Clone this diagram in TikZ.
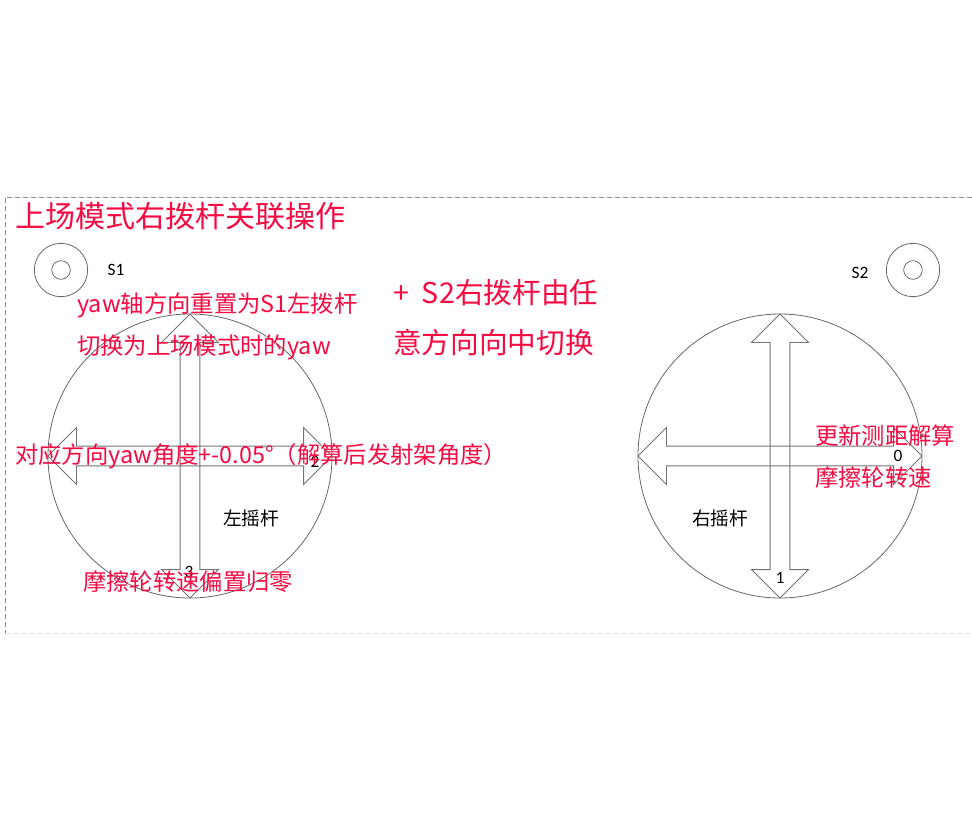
\documentclass[tikz,border=0pt]{standalone}
\usepackage{fontspec}
\setmainfont{Noto Sans CJK SC}
\newfontfamily\latinfont{Carlito}
\usetikzlibrary{shapes.arrows}
\definecolor{notered}{RGB}{245,10,65}

\begin{document}
\begin{tikzpicture}[x=0.75pt, y=-0.75pt,
    note/.style={text=notered, anchor=west, inner sep=0pt, font=\fontsize{17.5pt}{20pt}\selectfont},
    bignote/.style={note, font=\fontsize{21.5pt}{24pt}\selectfont},
    stick/.style={double arrow, draw=black!55, line width=0.6pt, minimum height=213pt,
        inner xsep=0pt, inner ysep=7.1pt, double arrow head extend=13.9pt},
    knob/.style={circle, draw=black!60, line width=0.6pt, inner sep=0pt},
    tag/.style={inner sep=0pt, font=\latinfont\fontsize{13pt}{15pt}\selectfont}]

    \useasboundingbox (0,0) rectangle (972,826);

    % frame
    \draw[black!45, dash pattern=on 4pt off 2pt] (972,197) -- (5,197) -- (5,633);
    \draw[black!12, dash pattern=on 4pt off 2pt] (5,633) -- (972,633);

    % switches
    \node[knob, minimum size=40pt] (s1out) at (61,270) {};
    \node[knob, minimum size=14pt] (s1in) at (61,270) {};
    \node[tag] (s1lbl) at (116,270) {S1};
    \node[knob, minimum size=40pt] (s2out) at (913,270) {};
    \node[knob, minimum size=14pt] (s2in) at (913,270) {};
    \node[tag] (s2lbl) at (860,273) {S2};

    % left stick
    \node[knob, minimum size=213pt] (lring) at (190,456) {};
    \node[stick] (lhor) at (190,456) {};
    \node[stick, rotate=90] (lver) at (190,456) {};
    \node[tag] (ltwo) at (315,462) {2};
    \node[tag] (lthree) at (189,572) {3};
    \node[inner sep=0pt, font=\fontsize{14pt}{16pt}\selectfont] (lname) at (251,518) {左摇杆};

    % right stick
    \node[knob, minimum size=213pt] (rring) at (780,456) {};
    \node[stick] (rhor) at (780,456) {};
    \node[stick, rotate=90] (rver) at (780,456) {};
    \node[tag] (rzero) at (898,456) {0};
    \node[tag] (rone) at (780,578) {1};
    \node[inner sep=0pt, font=\fontsize{14pt}{16pt}\selectfont] (rname) at (720,518) {右摇杆};

    % notes
    \node[bignote, font=\fontsize{22.5pt}{25pt}\selectfont] (title) at (15,216) {上场模式右拨杆关联操作};
    \node[note] (reset1) at (77,305) {yaw轴方向重置为S1左拨杆};
    \node[note] (reset2) at (77,347) {切换为上场模式时的yaw};
    \node[bignote] (any1) at (393,293) {+\ \ S2右拨杆由任};
    \node[bignote] (any2) at (393,342) {意方向向中切换};
    \node[note] (yawnote) at (15,456) {对应方向yaw角度+-0.05°（解算后发射架角度）};
    \node[note] (zeronote) at (83,582) {摩擦轮转速偏置归零};
    \node[note] (upd1) at (815,436) {更新测距解算};
    \node[note] (upd2) at (815,478) {摩擦轮转速};

\end{tikzpicture}
\end{document}
